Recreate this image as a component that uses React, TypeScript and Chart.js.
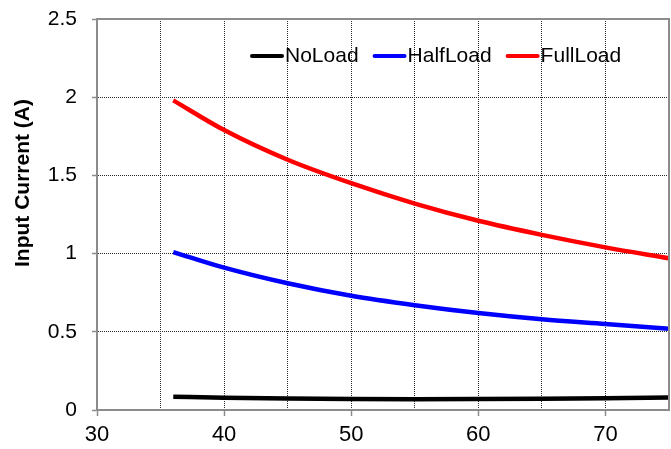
import { useEffect, useRef } from "react";
import { Chart, registerables } from "chart.js";

Chart.register(...registerables);

const voltages = [36, 40, 45, 50, 55, 60, 65, 70, 75];
const noLoad = [0.085, 0.079, 0.073, 0.07, 0.069, 0.07, 0.072, 0.075, 0.08];
const halfLoad = [1.01, 0.91, 0.81, 0.73, 0.67, 0.62, 0.58, 0.55, 0.52];
const fullLoad = [1.98, 1.79, 1.6, 1.45, 1.32, 1.21, 1.12, 1.04, 0.97];
const seriesNames = ["NoLoad", "HalfLoad", "FullLoad"];
const seriesColors = ["#000000", "#0000ff", "#ff0000"];
const xTickLabels = [30, 40, 50, 60, 70];
const yTickLabels = [0, 0.5, 1, 1.5, 2, 2.5];
const yTitle = "Input Current (A)";

const FONT = "'Liberation Sans', Arial, sans-serif";
const AXIS_GRAY = "#8c8c8c";

const framePlugin = {
  id: "frame",
  afterDraw(chart: any) {
    const { ctx, chartArea } = chart;
    ctx.save();
    ctx.strokeStyle = AXIS_GRAY;
    ctx.lineWidth = 2;
    ctx.beginPath();
    ctx.moveTo(chartArea.left, chartArea.top);
    ctx.lineTo(chartArea.right, chartArea.top);
    ctx.lineTo(chartArea.right, chartArea.bottom);
    ctx.stroke();
    ctx.restore();
  },
};

const titlePlugin = {
  id: "yTitle",
  afterDraw(chart: any) {
    const { ctx } = chart;
    ctx.save();
    ctx.translate(23, 183);
    ctx.rotate(-Math.PI / 2);
    ctx.font = `bold 21px ${FONT}`;
    ctx.fillStyle = "#000";
    ctx.textAlign = "center";
    ctx.textBaseline = "middle";
    ctx.fillText(yTitle, 0, 0);
    ctx.restore();
  },
};

const legendPlugin = {
  id: "innerLegend",
  afterDraw(chart: any) {
    const { ctx } = chart;
    ctx.save();
    ctx.font = `21px ${FONT}`;
    ctx.textBaseline = "middle";
    ctx.textAlign = "left";
    let x = 250;
    const y = 56;
    chart.data.datasets.forEach((ds: any) => {
      ctx.strokeStyle = ds.borderColor;
      ctx.lineWidth = 4;
      ctx.lineCap = "round";
      ctx.beginPath();
      ctx.moveTo(x + 2, y);
      ctx.lineTo(x + 32, y);
      ctx.stroke();
      ctx.fillStyle = "#000";
      ctx.fillText(ds.label, x + 35, y);
      x += 35 + ctx.measureText(ds.label).width + 14;
    });
    ctx.restore();
  },
};

export default function App() {
  const ref = useRef<HTMLCanvasElement | null>(null);

  useEffect(() => {
    document.body.style.margin = "0";
    const canvas = ref.current;
    if (!canvas) return;
    const all = [noLoad, halfLoad, fullLoad];
    const chart = new Chart(canvas, {
      type: "line",
      data: {
        datasets: all.map((vals, i) => ({
          label: seriesNames[i],
          data: voltages.map((v, j) => ({ x: v, y: vals[j] })),
          borderColor: seriesColors[i],
          backgroundColor: seriesColors[i],
          borderWidth: 4.5,
          pointRadius: 0,
          cubicInterpolationMode: "monotone" as const,
          fill: false,
        })),
      },
      options: {
        animation: false,
        responsive: false,
        devicePixelRatio: 1,
        layout: { padding: { top: 19, right: 2, left: 0, bottom: 0 } },
        plugins: {
          legend: { display: false },
          tooltip: { enabled: false },
        },
        scales: {
          x: {
            type: "linear",
            min: 30,
            max: 75,
            ticks: {
              stepSize: 5,
              autoSkip: false,
              maxRotation: 0,
              padding: 6,
              color: "#000",
              font: { family: FONT, size: 22 },
              callback: (v: any) => (xTickLabels.includes(Number(v)) ? String(v) : ""),
            },
            grid: {
              color: "#2a2a2a",
              lineWidth: 1,
              tickLength: 6,
              tickWidth: 1.5,
              tickColor: (c: any) =>
                c.tick && xTickLabels.includes(c.tick.value) ? AXIS_GRAY : "rgba(0,0,0,0)",
            },
            border: { color: AXIS_GRAY, width: 2, dash: [1, 1] },
            afterFit: (s: any) => {
              s.height = 39;
              s.paddingLeft = 0;
              s.paddingRight = 0;
            },
          },
          y: {
            type: "linear",
            min: 0,
            max: 2.5,
            ticks: {
              stepSize: 0.5,
              padding: 15,
              color: "#000",
              font: { family: FONT, size: 21 },
              callback: (v: any) => {
                const n = Number(v);
                const t = yTickLabels.find((k) => Math.abs(k - n) < 1e-9);
                return t === undefined ? "" : String(t);
              },
            },
            grid: {
              color: "#2a2a2a",
              lineWidth: 1,
              tickLength: 5,
              tickWidth: 1.5,
              tickColor: AXIS_GRAY,
            },
            border: { color: AXIS_GRAY, width: 2, dash: [1, 1] },
            afterFit: (s: any) => {
              s.width = 97;
              s.paddingTop = 0;
              s.paddingBottom = 0;
            },
          },
        },
      },
      plugins: [framePlugin, titlePlugin, legendPlugin],
    });
    return () => chart.destroy();
  }, []);

  return (
    <div style={{ width: 671, height: 449 }}>
      <canvas ref={ref} width={671} height={449} style={{ display: "block" }} />
    </div>
  );
}
